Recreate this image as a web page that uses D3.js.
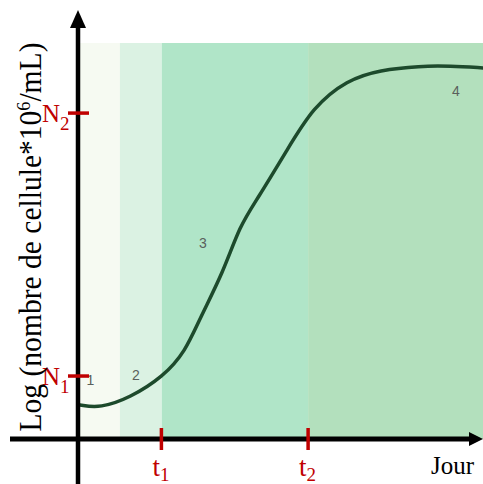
<!DOCTYPE html>
<meta charset="utf-8">
<style>
  body { margin: 0; background: #fff; }
  .serif { font-family: 'Liberation Serif', 'Times New Roman', serif; }
</style>
<script src="https://d3js.org/d3.v7.min.js"></script>
<div id="chart"></div>
<script>
// growth curve (x = time, y = log count, both 0-100)
var days = [0, 5, 12.4, 20.6, 26.1, 29.8, 35.5, 39.7, 43.9, 51.4, 57.8, 66.3, 74.4, 84.4, 91.8, 100];
var logCount = [8.6, 7.8, 10.4, 15.7, 22, 30.6, 42, 54, 60.4, 73, 83.8, 90.7, 93.2, 94.2, 94.2, 93.7];

// the four phases (start/end on the time axis)
var phaseStart = [0, 9.9, 20.3, 56.6];
var phaseEnd = [9.9, 20.3, 56.6, 100];
var phaseColor = ["#f6faf2", "#dbf2e3", "#b0e5c8", "#b3e0bd"];
var phaseLabel = ["1", "2", "3", "4"];
var phaseLabelX = [2.6, 13.9, 30.5, 93.3];
var phaseLabelY = [14.8, 16.2, 49.5, 88];

// marked values on the axes
var xMarks = [{name: "t", sub: "1", v: 20.2}, {name: "t", sub: "2", v: 56.6}];
var yMarks = [{name: "N", sub: "1", v: 15.9}, {name: "N", sub: "2", v: 82.3}];

var W = 483, H = 484;
var svg = d3.select("#chart").append("svg")
    .attr("width", W)
    .attr("height", H);

var x = d3.scaleLinear().domain([0, 100]).range([80, 483]);
var y = d3.scaleLinear().domain([0, 100]).range([439, 43]);

// background bands
svg.append("g").selectAll("rect")
  .data(phaseStart)
  .enter().append("rect")
    .attr("x", function(d) { return x(d); })
    .attr("width", function(d, i) { return x(phaseEnd[i]) - x(d); })
    .attr("y", y(100))
    .attr("height", y(0) - y(100))
    .attr("fill", function(d, i) { return phaseColor[i]; });

// phase numbers
svg.append("g").selectAll("text")
  .data(phaseLabel)
  .enter().append("text")
    .attr("x", function(d, i) { return x(phaseLabelX[i]); })
    .attr("y", function(d, i) { return y(phaseLabelY[i]); })
    .attr("text-anchor", "middle")
    .attr("dominant-baseline", "central")
    .style("font-family", "'Liberation Sans', Arial, sans-serif")
    .style("font-size", "14px")
    .attr("fill", "#5a5f5c")
    .text(function(d) { return d; });

// the curve
var line = d3.line()
    .x(function(d, i) { return x(days[i]); })
    .y(function(d) { return y(d); })
    .curve(d3.curveBasis);

svg.append("path")
    .datum(logCount)
    .attr("d", line)
    .attr("fill", "none")
    .attr("stroke", "#1d4a2c")
    .attr("stroke-width", 3.5)
    .attr("stroke-linecap", "round");

// axes
svg.append("line")
    .attr("x1", x(0) - 2).attr("x2", x(0) - 2)
    .attr("y1", H).attr("y2", 26)
    .attr("stroke", "#000").attr("stroke-width", 4.5);
svg.append("path")
    .attr("d", "M" + (x(0) - 10) + ",28 L" + (x(0) - 2) + ",10 L" + (x(0) + 6) + ",28 Z")
    .attr("fill", "#000");

svg.append("line")
    .attr("x1", 10).attr("x2", W - 8)
    .attr("y1", y(0)).attr("y2", y(0))
    .attr("stroke", "#000").attr("stroke-width", 5);
svg.append("path")
    .attr("d", "M" + (W - 14) + "," + (y(0) - 7) + " L" + W + "," + y(0) + " L" + (W - 14) + "," + (y(0) + 7) + " Z")
    .attr("fill", "#000");

// red marks on x axis
var red = "#c00000";
svg.append("g").selectAll("line")
  .data(xMarks)
  .enter().append("line")
    .attr("x1", function(d) { return x(d.v); })
    .attr("x2", function(d) { return x(d.v); })
    .attr("y1", y(0) - 11).attr("y2", y(0) + 11)
    .attr("stroke", red).attr("stroke-width", 3.5);

var xt = svg.append("g").selectAll("text")
  .data(xMarks)
  .enter().append("text")
    .attr("class", "serif")
    .attr("x", function(d) { return x(d.v) - 9; })
    .attr("y", 476)
    .attr("fill", red)
    .style("font-size", "27px");
xt.append("tspan").text(function(d) { return d.name; });
xt.append("tspan").attr("dy", 5).style("font-size", "19px").text(function(d) { return d.sub; });

// red marks on y axis
svg.append("g").selectAll("line")
  .data(yMarks)
  .enter().append("line")
    .attr("x1", x(0) - 12).attr("x2", x(0) + 9)
    .attr("y1", function(d) { return y(d.v); })
    .attr("y2", function(d) { return y(d.v); })
    .attr("stroke", red).attr("stroke-width", 3.5);

var yt = svg.append("g").selectAll("text")
  .data(yMarks)
  .enter().append("text")
    .attr("class", "serif")
    .attr("x", 42)
    .attr("y", function(d) { return y(d.v) + 9; })
    .attr("fill", red)
    .style("font-size", "25px");
yt.append("tspan").text(function(d) { return d.name; });
yt.append("tspan").attr("dy", 8).style("font-size", "19px").text(function(d) { return d.sub; });

// axis titles
svg.append("text")
    .attr("class", "serif")
    .attr("x", 474)
    .attr("y", 474)
    .attr("text-anchor", "end")
    .style("font-size", "25px")
    .text("Jour");

var yl = svg.append("text")
    .attr("class", "serif")
    .attr("transform", "translate(41,237) rotate(-90)")
    .attr("text-anchor", "middle")
    .attr("textLength", 389)
    .attr("lengthAdjust", "spacingAndGlyphs")
    .style("font-size", "31px");
yl.append("tspan").text("Log (nombre de cellule*10");
yl.append("tspan").attr("dy", -11).style("font-size", "19px").text("6");
yl.append("tspan").attr("dy", 11).text("/mL)");
</script>
